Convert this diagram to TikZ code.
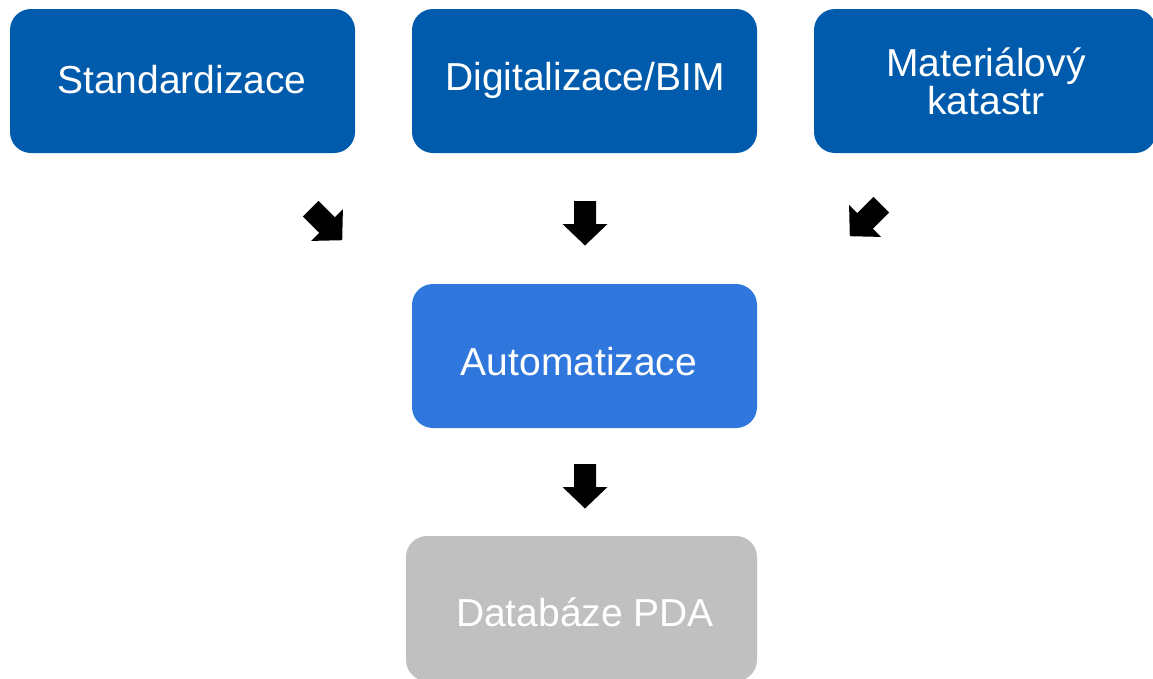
\documentclass[tikz,border=0pt]{standalone}
\usepackage{fontspec}
\setmainfont{Liberation Sans}
\definecolor{darkblue}{RGB}{0,91,172}
\definecolor{lightblue}{RGB}{47,119,220}
\definecolor{greybox}{RGB}{192,192,192}
\begin{document}
\begin{tikzpicture}[x=1pt,y=-1pt,
  box/.style={rounded corners=21pt, inner sep=0pt, text=white, align=center,
    font=\fontsize{39}{38}\selectfont},
  blockarrow/.pic={\fill[black] (-11,-23) -- (11,-23) -- (11,0) -- (22.5,0) -- (0,21.5) -- (-22.5,0) -- (-11,0) -- cycle;}]
\useasboundingbox (0,0) rectangle (1153,678);
\fill[white] (0,0) rectangle (1153,678);
\begin{scope}
\clip (0,0) rectangle (1153,678);
\fill[darkblue, rounded corners=21pt] (10,9) rectangle (355,153);
\fill[darkblue, rounded corners=21pt] (412,9) rectangle (757,153);
\fill[darkblue, rounded corners=21pt] (814,9) rectangle (1156,153);
\fill[lightblue, rounded corners=21pt] (412,284) rectangle (757,428);
\fill[greybox, rounded corners=21pt] (406,536) rectangle (757,681);
\end{scope}
\node[box] (std) at (182,80) {Standardizace};
\node[box] (dig) at (585,80) {Digitalizace/BIM};
\node[box] (mat) at (986,81) {Materiálový\\katastr};
\node[box] (aut) at (579,362) {Automatizace};
\node[box] (db) at (585,612) {Databáze PDA};
\pic at (327,225) [rotate=45] {blockarrow};
\pic at (585,224) {blockarrow};
\pic at (865,221) [rotate=-45] {blockarrow};
\pic at (585,487) {blockarrow};
\end{tikzpicture}
\end{document}
